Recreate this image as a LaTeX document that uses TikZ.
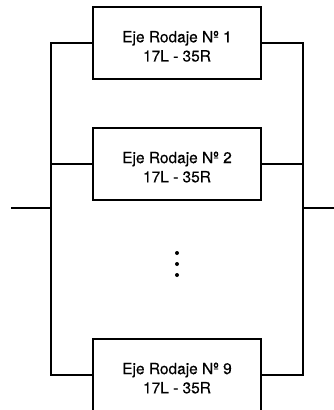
\documentclass[tikz,border=0pt]{standalone}
\usepackage{fontspec}
\setmainfont{TeX Gyre Heros}[FakeBold=0.35]
\begin{document}
\begin{tikzpicture}[x=0.75pt,y=-0.75pt,
  line width=1.5pt,
  box/.style={draw,minimum width=126pt,minimum height=54pt,inner sep=0pt,fill=white},
  txt/.style={align=center,font=\fontsize{11.6}{14.4}\selectfont,inner sep=0pt},
  wire/.style={line width=1.5pt}]
\clip (0,0) rectangle (334,410);
\useasboundingbox (0,0) rectangle (334,410);
\node[box] (b1) at (177,43.2) {};
\node[box] (b2) at (177,164) {};
\node[box] (b9) at (177,375) {};
\node[txt] (t1) at ([yshift=-2.3pt]b1.center) {Eje Rodaje Nº 1\\17L - 35R};
\node[txt] (t2) at ([yshift=-2.3pt]b2.center) {Eje Rodaje Nº 2\\17L - 35R};
\node[txt] (t9) at ([yshift=-2.3pt]b9.center) {Eje Rodaje Nº 9\\17L - 35R};
\coordinate (L) at (51,208);
\coordinate (R) at (303,208);
\coordinate (in) at (11,208);
\coordinate (out) at (336,208);
\draw[wire] (b1.west) -| (L) |- (b9.west);
\draw[wire] (b1.east) -| (R) |- (b9.east);
\draw[wire] (b2.west) -- (b2.west -| L);
\draw[wire] (b2.east) -- (b2.east -| R);
\draw[wire] (in) -- (L);
\draw[wire] (R) -- (out);
\foreach \yy/\nm in {253/d1,264/d2,275/d3}
  \fill (177,\yy) circle[radius=1.5pt] coordinate (\nm);
\end{tikzpicture}
\end{document}
